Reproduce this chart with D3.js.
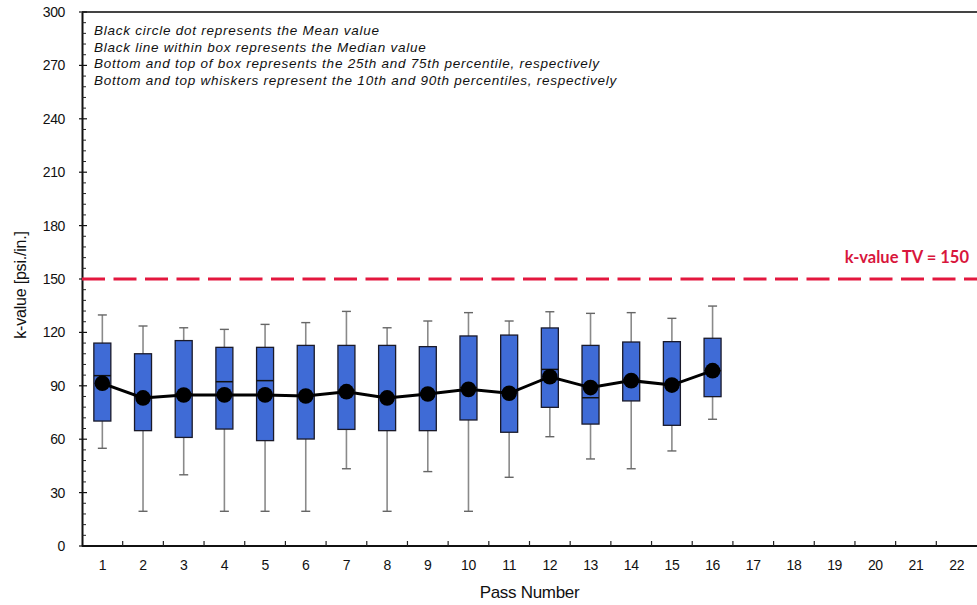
<!DOCTYPE html>
<html>
<head>
<meta charset="utf-8">
<script src="https://cdn.jsdelivr.net/npm/d3@7"></script>
<style>
  html, body { margin: 0; padding: 0; background: #fff; }
  svg { display: block; }
</style>
</head>
<body>
<svg id="chart" width="977" height="605"></svg>
<script>
// ---- Data ----
const passes = ["1","2","3","4","5","6","7","8","9","10","11","12","13","14","15","16","17","18","19","20","21","22"];
const dataPasses = ["1","2","3","4","5","6","7","8","9","10","11","12","13","14","15","16"];
const meanVals   = [91.4, 83.2, 84.8, 84.9, 84.9, 84.3, 86.7, 83.2, 85.4, 88.0, 85.8, 95.1, 89.0, 92.9, 90.4, 98.5];
const medianVals = [95.7, 84.0, 85.5, 92.3, 92.9, 84.5, 87.5, 84.0, 86.0, 89.0, 86.5, 99.2, 83.3, 93.5, 90.5, 98.5];
const q1Vals     = [70.2, 64.8, 61.0, 65.7, 59.2, 60.1, 65.5, 64.8, 64.8, 70.8, 63.9, 77.9, 68.5, 81.5, 67.8, 83.9];
const q3Vals     = [114.0, 108.0, 115.4, 111.6, 111.6, 112.7, 112.7, 112.7, 112.0, 118.0, 118.5, 122.5, 112.7, 114.6, 114.8, 116.7];
const p10Vals    = [54.9, 19.5, 40.0, 19.5, 19.5, 19.5, 43.4, 19.5, 41.8, 19.5, 38.6, 61.4, 48.9, 43.4, 53.4, 71.2];
const p90Vals    = [129.8, 123.6, 122.6, 121.7, 124.5, 125.5, 131.8, 122.6, 126.4, 131.1, 126.4, 131.6, 130.7, 131.1, 127.9, 134.8];
const yTicks = [0, 30, 60, 90, 120, 150, 180, 210, 240, 270, 300];
const targetValue = 150;
const targetLabel = "k-value TV = 150";
const notes = [
  "Black circle dot represents the Mean value",
  "Black line within box represents the Median value",
  "Bottom and top of box represents the 25th and 75th percentile, respectively",
  "Bottom and top whiskers represent the 10th and 90th percentiles, respectively"
];
const xTitle = "Pass Number";
const yTitle = "k-value [psi./in.]";

// ---- Layout ----
const svg = d3.select("#chart");
const pL = 82, pR = 977, pT = 12, pB = 546;
const sans = "'Liberation Sans', Arial, sans-serif";

const x = d3.scaleBand().domain(passes).range([pL, pR]).paddingInner(0).paddingOuter(0);
const y = d3.scaleLinear().domain([0, 300]).range([pB, pT]);
const bw = 17;

// top border
svg.append("line").attr("x1", pL).attr("x2", pR).attr("y1", pT).attr("y2", pT)
  .attr("stroke", "#444").attr("stroke-width", 2);

// Y axis
const yAxis = d3.axisLeft(y).tickValues(yTicks).tickSize(0).tickPadding(17);
const gy = svg.append("g").attr("transform", `translate(${pL},0)`).call(yAxis);
gy.select(".domain").attr("stroke", "#111").attr("stroke-width", 2);
gy.selectAll("text").attr("font-family", sans).attr("font-size", 14).attr("fill", "#111")
  .attr("letter-spacing", -0.4);
// major ticks (crossing)
svg.append("g").selectAll("line").data(yTicks).join("line")
  .attr("x1", pL - 3).attr("x2", pL + 5)
  .attr("y1", d => y(d)).attr("y2", d => y(d))
  .attr("stroke", "#111").attr("stroke-width", 1.2);
// minor ticks
const minor = d3.range(0, 301, 6).filter(v => v % 30 !== 0);
svg.append("g").selectAll("line").data(minor).join("line")
  .attr("x1", pL).attr("x2", pL + 4)
  .attr("y1", d => y(d)).attr("y2", d => y(d))
  .attr("stroke", "#222").attr("stroke-width", 1);

// X axis
const xAxis = d3.axisBottom(x).tickSize(0).tickPadding(14);
const gx = svg.append("g").attr("transform", `translate(0,${pB})`).call(xAxis);
gx.select(".domain").remove();
gx.selectAll("text").attr("font-family", sans).attr("font-size", 14).attr("fill", "#111")
  .attr("letter-spacing", -0.4);
svg.append("line").attr("x1", pL).attr("x2", pR).attr("y1", pB).attr("y2", pB)
  .attr("stroke", "#111").attr("stroke-width", 2);
svg.append("g").selectAll("line").data(passes.slice(1)).join("line")
  .attr("x1", d => x(d)).attr("x2", d => x(d))
  .attr("y1", pB).attr("y2", pB - 5)
  .attr("stroke", "#222").attr("stroke-width", 1.2);

// Axis titles
svg.append("text").attr("x", (pL + pR) / 2).attr("y", 598)
  .attr("text-anchor", "middle").attr("font-family", sans).attr("font-size", 17)
  .attr("fill", "#111").attr("letter-spacing", -0.3).text(xTitle);
svg.append("text").attr("transform", `translate(26,${(pT + pB) / 2 + 6}) rotate(-90)`)
  .attr("text-anchor", "middle").attr("font-family", sans).attr("font-size", 16)
  .attr("fill", "#111").attr("letter-spacing", -0.2).text(yTitle);

// Notes
svg.append("g").selectAll("text").data(notes).join("text")
  .attr("x", 94).attr("y", (d, i) => 35 + i * 16.7)
  .attr("font-family", sans).attr("font-style", "italic")
  .attr("font-size", 13.5).attr("fill", "#111").attr("letter-spacing", 0.75)
  .text(d => d);

// Target line
svg.append("line").attr("x1", pL).attr("x2", pR)
  .attr("y1", y(targetValue)).attr("y2", y(targetValue))
  .attr("stroke", "#e3173e").attr("stroke-width", 3).attr("stroke-dasharray", "23,8.5");
svg.append("text").attr("x", 969).attr("y", 263).attr("text-anchor", "end")
  .attr("font-family", "Lato, 'Open Sans', sans-serif").attr("font-weight", "bold")
  .attr("font-size", 16.5).attr("fill", "#d8163c").text(targetLabel);

// Boxes
const rows = dataPasses.map((p, i) => ({
  p, mean: meanVals[i], med: medianVals[i], q1: q1Vals[i], q3: q3Vals[i], lo: p10Vals[i], hi: p90Vals[i]
}));
const cx = d => x(d.p) + x.bandwidth() / 2;
const g = svg.append("g");
// whiskers
g.selectAll(".wh").data(rows).join("line").attr("class", "wh")
  .attr("x1", cx).attr("x2", cx).attr("y1", d => y(d.hi)).attr("y2", d => y(d.lo))
  .attr("stroke", "#8a8a8a").attr("stroke-width", 1.6);
g.selectAll(".capH").data(rows).join("line").attr("class", "capH")
  .attr("x1", d => cx(d) - 4.5).attr("x2", d => cx(d) + 4.5)
  .attr("y1", d => y(d.hi)).attr("y2", d => y(d.hi))
  .attr("stroke", "#666").attr("stroke-width", 1.4);
g.selectAll(".capL").data(rows).join("line").attr("class", "capL")
  .attr("x1", d => cx(d) - 4.5).attr("x2", d => cx(d) + 4.5)
  .attr("y1", d => y(d.lo)).attr("y2", d => y(d.lo))
  .attr("stroke", "#666").attr("stroke-width", 1.4);
// box
g.selectAll(".box").data(rows).join("rect").attr("class", "box")
  .attr("x", d => cx(d) - bw / 2).attr("width", bw)
  .attr("y", d => y(d.q3)).attr("height", d => y(d.q1) - y(d.q3))
  .attr("fill", "#3f6bd6").attr("stroke", "#1a1a2a").attr("stroke-width", 1.3);
// median
g.selectAll(".med").data(rows).join("line").attr("class", "med")
  .attr("x1", d => cx(d) - bw / 2).attr("x2", d => cx(d) + bw / 2)
  .attr("y1", d => y(d.med)).attr("y2", d => y(d.med))
  .attr("stroke", "#111").attr("stroke-width", 1.5);
// mean line
g.append("path").datum(rows)
  .attr("d", d3.line().x(cx).y(d => y(d.mean)))
  .attr("fill", "none").attr("stroke", "#000").attr("stroke-width", 3);
g.selectAll(".dot").data(rows).join("circle").attr("class", "dot")
  .attr("cx", cx).attr("cy", d => y(d.mean)).attr("r", 7.8)
  .attr("fill", "#000");
</script>
</body>
</html>
